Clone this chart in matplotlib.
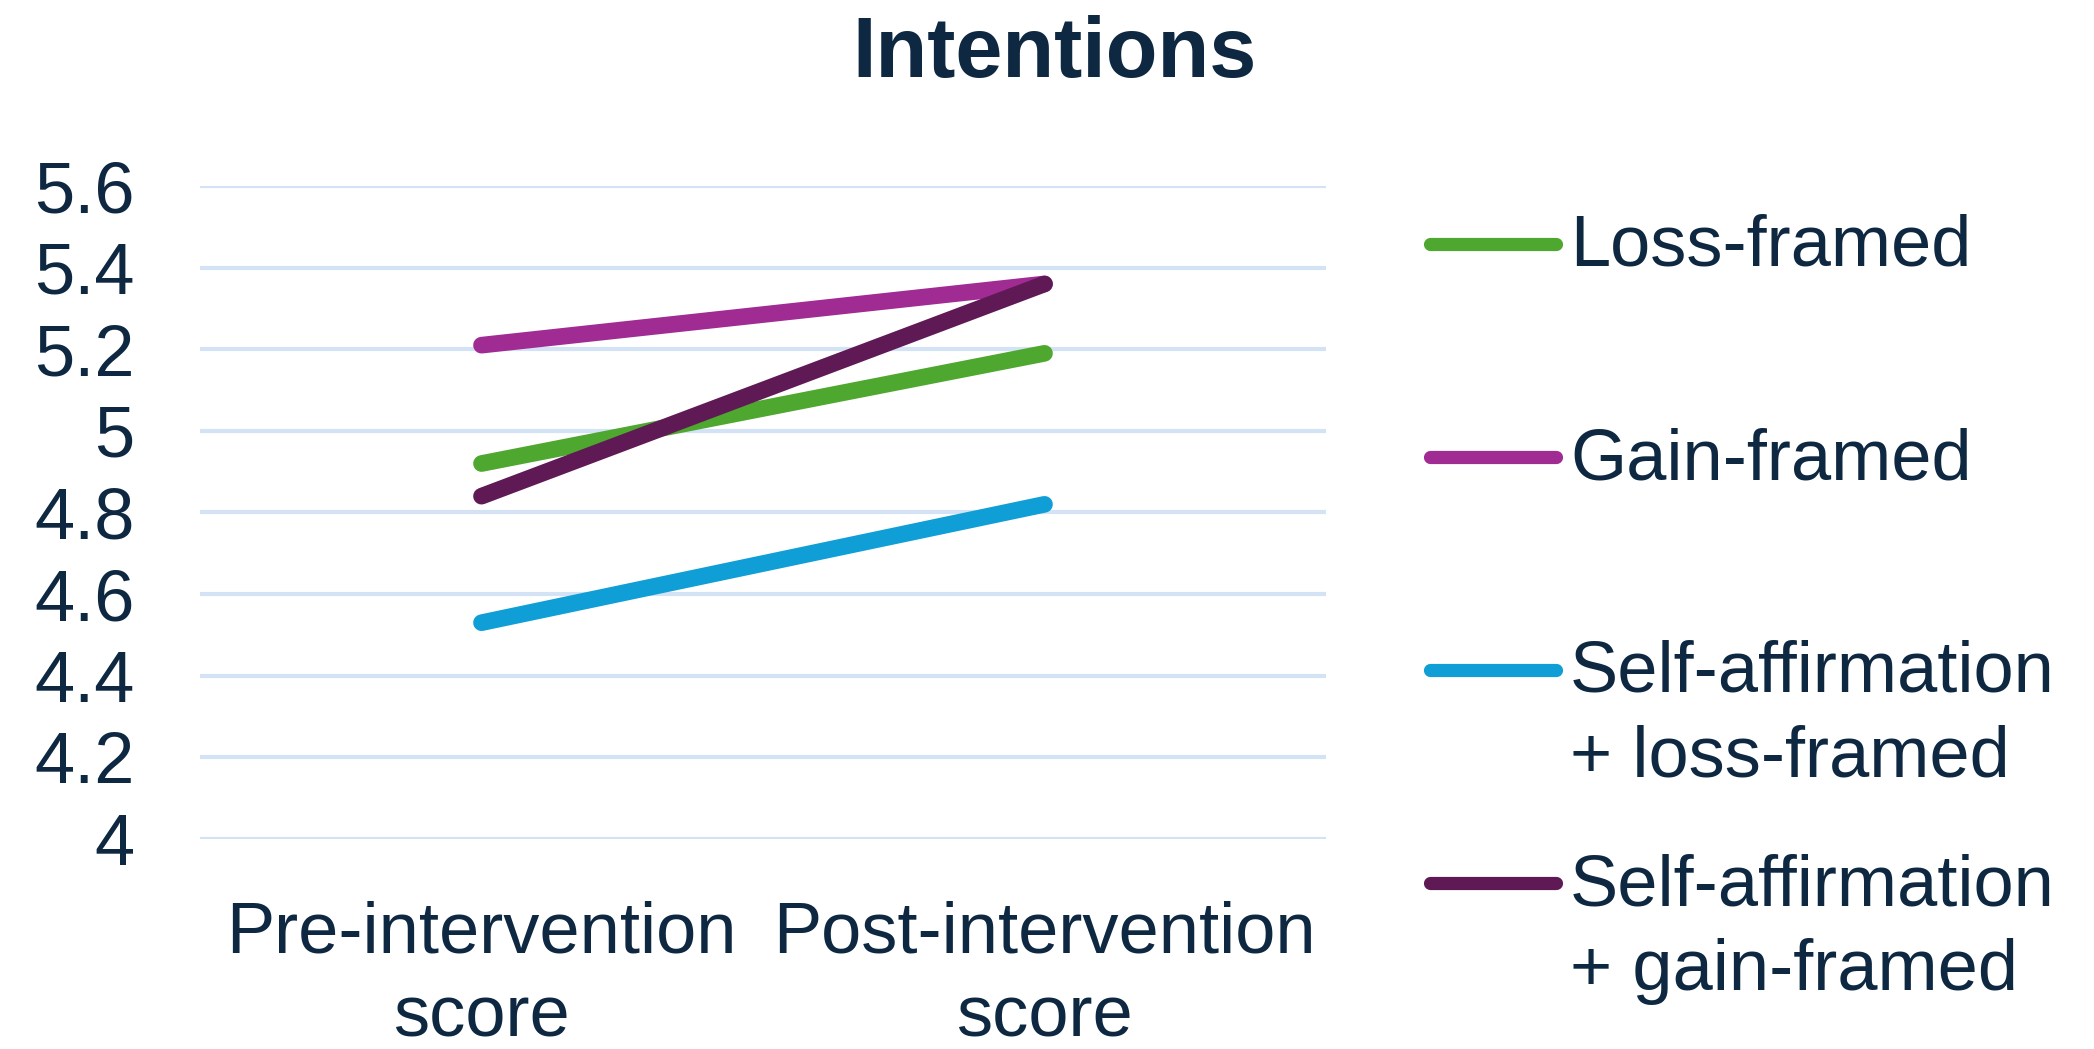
import matplotlib
matplotlib.use("Agg")
import matplotlib.pyplot as plt
from matplotlib.lines import Line2D
from matplotlib.ticker import FuncFormatter

# mean intention scores per condition
timepoints = ["Pre-intervention\nscore", "Post-intervention\nscore"]
loss_framed = [4.92, 5.19]
gain_framed = [5.21, 5.36]
sa_loss_framed = [4.53, 4.82]
sa_gain_framed = [4.84, 5.36]
labels = ["Loss-framed", "Gain-framed",
          "Self-affirmation\n+ loss-framed", "Self-affirmation\n+ gain-framed"]
colors = ["#4EA72E", "#A02B93", "#0F9ED5", "#5F1A56"]
yticks = [4, 4.2, 4.4, 4.6, 4.8, 5, 5.2, 5.4, 5.6]

navy = "#0E2841"
plt.rcParams['font.family'] = ['Liberation Sans', 'DejaVu Sans']

W, H = 2094, 1049
fig = plt.figure(figsize=(W / 100, H / 100), dpi=100)
ax = fig.add_axes([200 / W, 1 - 839 / H, 1126 / W, (839 - 186) / H])

series = [loss_framed, gain_framed, sa_loss_framed, sa_gain_framed]
x = [0, 1]
for vals, c in zip(series, colors):
    ax.plot(x, vals, color=c, lw=12, solid_capstyle='round', zorder=3)

ax.set_xlim(-0.5, 1.5)
ax.set_ylim(4, 5.6)
ax.set_yticks(yticks)
ax.yaxis.set_major_formatter(FuncFormatter(lambda v, p: f"{v:g}"))
ax.set_xticks(x)
ax.set_xticklabels(timepoints, linespacing=1.34)
ax.grid(axis='y', color="#D3E2F4", lw=3)
ax.set_axisbelow(True)
for s in ax.spines.values():
    s.set_visible(False)
ax.tick_params(axis='y', length=0, pad=47, labelsize=52, labelcolor=navy)
ax.tick_params(axis='x', length=0, pad=44, labelsize=52, labelcolor=navy)

fig.text(1055 / W, 1 - 55 / H, "Intentions", ha='center', va='center',
         fontsize=61, fontweight='bold', color=navy)

# legend drawn by hand so the two-line labels line up on their first line
ys = [244, 457, 670, 883]
for lab, c, yp in zip(labels, colors, ys):
    yf = 1 - yp / H
    fig.add_artist(Line2D([1430 / W, 1556 / W], [yf, yf], color=c, lw=9.5,
                          solid_capstyle='round', transform=fig.transFigure))
    fig.text(1570 / W, 1 - (yp - 30) / H, lab, ha='left', va='top',
             fontsize=52, color=navy, linespacing=1.34,
             transform=fig.transFigure)

fig.savefig("out.png", dpi=100)
